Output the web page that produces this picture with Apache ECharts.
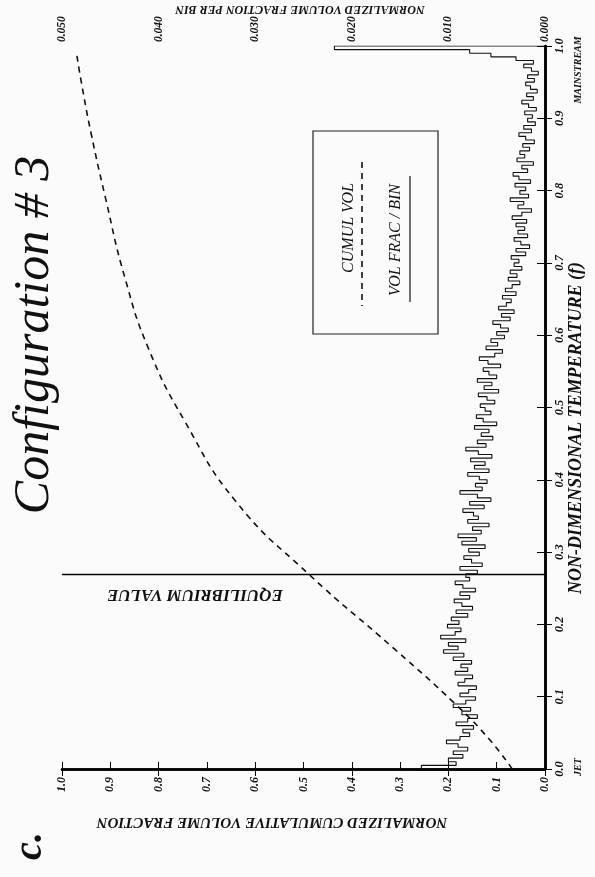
<!DOCTYPE html>
<html>
<head>
<meta charset="utf-8">
<script src="https://cdn.jsdelivr.net/npm/echarts@6/dist/echarts.min.js"></script>
<style>
html,body{margin:0;padding:0;background:#fbfbfb;}
#c{width:595px;height:877px;}
</style>
</head>
<body>
<div id="c"></div>
<script>
// ---- data ----
var binWidth = 0.005;
var binValues = [
0.0128,0.0092,0.0100,0.0085,0.0095,0.0080,0.0090,0.0102,0.0088,0.0078,
0.0085,0.0074,0.0092,0.0080,0.0070,0.0086,0.0077,0.0095,0.0082,0.0072,
0.0088,0.0079,0.0071,0.0090,0.0083,0.0075,0.0093,0.0080,0.0087,0.0076,
0.0095,0.0084,0.0105,0.0090,0.0100,0.0082,0.0108,0.0093,0.0087,0.0101,
0.0089,0.0097,0.0080,0.0092,0.0075,0.0086,0.0094,0.0078,0.0088,0.0072,
0.0085,0.0093,0.0078,0.0082,0.0070,0.0088,0.0065,0.0076,0.0084,0.0068,
0.0079,0.0062,0.0086,0.0071,0.0090,0.0066,0.0075,0.0058,0.0080,0.0069,
0.0074,0.0085,0.0063,0.0078,0.0056,0.0070,0.0088,0.0065,0.0072,0.0060,
0.0068,0.0080,0.0058,0.0073,0.0062,0.0077,0.0055,0.0069,0.0082,0.0061,
0.0070,0.0054,0.0066,0.0058,0.0073,0.0050,0.0064,0.0071,0.0056,0.0062,
0.0067,0.0052,0.0060,0.0069,0.0048,0.0063,0.0055,0.0070,0.0050,0.0058,
0.0064,0.0046,0.0059,0.0068,0.0052,0.0044,0.0061,0.0049,0.0056,0.0042,
0.0050,0.0038,0.0046,0.0054,0.0036,0.0045,0.0032,0.0048,0.0040,0.0035,
0.0044,0.0030,0.0041,0.0034,0.0026,0.0038,0.0029,0.0036,0.0024,0.0032,
0.0027,0.0035,0.0020,0.0030,0.0016,0.0025,0.0032,0.0018,0.0028,0.0021,
0.0030,0.0019,0.0034,0.0024,0.0014,0.0028,0.0022,0.0036,0.0017,0.0026,
0.0020,0.0031,0.0015,0.0027,0.0033,0.0018,0.0024,0.0012,0.0029,0.0021,
0.0026,0.0016,0.0023,0.0011,0.0020,0.0027,0.0014,0.0022,0.0010,0.0018,
0.0013,0.0021,0.0009,0.0017,0.0024,0.0012,0.0019,0.0008,0.0015,0.0020,
0.0011,0.0018,0.0007,0.0014,0.0022,0.0012,0.0030,0.0056,0.0078,0.0218
];
var cumulTemp  = [0.00,0.04,0.09,0.165,0.27,0.37,0.48,0.58,0.68,0.79,0.88,0.95,0.99];
var cumulValue = [0.068,0.114,0.186,0.31,0.49,0.64,0.745,0.82,0.87,0.91,0.94,0.96,0.97];
var equilibrium = 0.27;

// ---- build series data ----
var stepData = [[0,0]];
for (var i=0;i<binValues.length;i++){
  stepData.push([binValues[i], i*binWidth]);
  stepData.push([binValues[i], (i+1)*binWidth]);
}
stepData.push([0,1]);
var cumData = cumulTemp.map(function(t,i){return [cumulValue[i], t];});

var FONT = "'Liberation Serif','DejaVu Serif',serif";
function ts(size){return {fontFamily:FONT, fontStyle:'italic', fontWeight:'bold', fontSize:size, color:'#111'};}

var chart = echarts.init(document.getElementById('c'), null, {renderer:'canvas'});
chart.setOption({
  animation:false,
  backgroundColor:'#fbfbfb',
  grid:{left:62, right:50, top:46, bottom:108, containLabel:false, outerBoundsMode:'none'},
  xAxis:[
    {type:'value', position:'bottom', min:0, max:1, interval:0.1, inverse:true,
     axisLine:{show:true, lineStyle:{color:'#000', width:2.5}},
     axisTick:{show:true, inside:true, length:7, lineStyle:{color:'#000', width:1}},
     axisLabel:Object.assign({show:true, rotate:90, margin:8, formatter:function(v){return v.toFixed(1);}}, ts(12)),
     splitLine:{show:false}},
    {type:'value', position:'top', min:0, max:0.05, interval:0.01, inverse:true,
     axisLine:{show:true, lineStyle:{color:'#000', width:2.5}},
     axisTick:{show:true, inside:true, length:7, lineStyle:{color:'#000', width:1}},
     axisLabel:Object.assign({show:true, rotate:90, margin:4, formatter:function(v){return v.toFixed(3);}}, ts(11.5)),
     splitLine:{show:false}}
  ],
  yAxis:[
    {type:'value', position:'right', min:0, max:1, interval:0.1,
     axisLine:{show:true, lineStyle:{color:'#000', width:2.5}},
     axisTick:{show:true, inside:true, length:8, lineStyle:{color:'#000', width:1}},
     axisLabel:Object.assign({show:true, rotate:90, margin:8, formatter:function(v){return v.toFixed(1);}}, ts(12.5)),
     splitLine:{show:false}},
    {type:'value', position:'left', min:0, max:1, interval:0.1,
     axisLine:{show:true, lineStyle:{color:'#000', width:2.5}},
     axisTick:{show:true, inside:true, length:7, lineStyle:{color:'#000', width:1}},
     axisLabel:{show:false},
     splitLine:{show:false}}
  ],
  series:[
    {type:'line', name:'VOL FRAC / BIN', xAxisIndex:1, yAxisIndex:0, data:stepData,
     showSymbol:false, symbol:'none', lineStyle:{color:'#111', width:1.1}},
    {type:'line', name:'CUMUL VOL', xAxisIndex:0, yAxisIndex:0, data:cumData, smooth:true,
     showSymbol:false, symbol:'none', lineStyle:{color:'#111', width:1.6, type:[6,5]},
     markLine:{silent:true, symbol:'none', label:{show:false},
       lineStyle:{color:'#000', width:1.3, type:'solid'},
       data:[{yAxis:equilibrium}]}}
  ],
  graphic:[
    {type:'text', x:35, y:335, rotation:Math.PI/2,
     style:{text:'Configuration # 3', font:'italic 50px '+FONT, fill:'#111', textAlign:'center', textVerticalAlign:'middle'}},
    {type:'text', x:31, y:846, rotation:Math.PI/2,
     style:{text:'c.', font:'italic bold 40px '+FONT, fill:'#111', textAlign:'center', textVerticalAlign:'middle'}},
    {type:'text', x:300, y:9, rotation:Math.PI,
     style:{text:'NORMALIZED VOLUME FRACTION PER BIN', font:'italic bold 12px '+FONT, fill:'#111', textAlign:'center', textVerticalAlign:'middle'}},
    {type:'text', x:272, y:822, rotation:Math.PI,
     style:{text:'NORMALIZED CUMULATIVE VOLUME FRACTION', font:'italic bold 15px '+FONT, fill:'#111', textAlign:'center', textVerticalAlign:'middle'}},
    {type:'text', x:576, y:428, rotation:Math.PI/2,
     style:{text:'NON-DIMENSIONAL TEMPERATURE (f)', font:'italic bold 18px '+FONT, fill:'#111', textAlign:'center', textVerticalAlign:'middle'}},
    {type:'text', x:578, y:767, rotation:Math.PI/2,
     style:{text:'JET', font:'italic bold 10px '+FONT, fill:'#111', textAlign:'center', textVerticalAlign:'middle'}},
    {type:'text', x:578, y:70, rotation:Math.PI/2,
     style:{text:'MAINSTREAM', font:'italic bold 10px '+FONT, fill:'#111', textAlign:'center', textVerticalAlign:'middle'}},
    {type:'text', x:195, y:594, rotation:Math.PI,
     style:{text:'EQUILIBRIUM VALUE', font:'italic bold 17px '+FONT, fill:'#111', textAlign:'center', textVerticalAlign:'middle'}},
    {type:'rect', shape:{x:313, y:131, width:125, height:203},
     style:{fill:'none', stroke:'#222', lineWidth:1.2}},
    {type:'text', x:349, y:228, rotation:Math.PI/2,
     style:{text:'CUMUL VOL', font:'italic 16px '+FONT, fill:'#111', textAlign:'center', textVerticalAlign:'middle'}},
    {type:'line', shape:{x1:362, y1:162, x2:362, y2:306},
     style:{stroke:'#111', lineWidth:1.6, lineDash:[6,5]}},
    {type:'text', x:396, y:240, rotation:Math.PI/2,
     style:{text:'VOL FRAC / BIN', font:'italic 16px '+FONT, fill:'#111', textAlign:'center', textVerticalAlign:'middle'}},
    {type:'line', shape:{x1:410, y1:176, x2:410, y2:302},
     style:{stroke:'#111', lineWidth:1.2}}
  ]
});
</script>
</body>
</html>
